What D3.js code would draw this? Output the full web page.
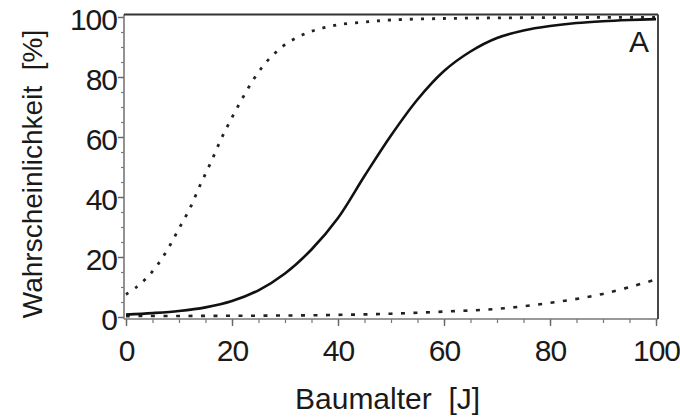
<!DOCTYPE html>
<html>
<head>
<meta charset="utf-8">
<script src="https://cdn.jsdelivr.net/npm/d3@7"></script>
<style>
  html, body { margin: 0; padding: 0; background: #fff; }
  svg { display: block; }
  text { font-family: "Liberation Sans", Arial, Helvetica, sans-serif; fill: #1a1a1a; }
</style>
</head>
<body>
<svg id="chart" width="680" height="419"></svg>
<script>
// ---- data ----
const solidAge = [0, 5, 10, 15, 20, 25, 30, 35, 40, 45, 50, 55, 60, 65, 70, 75, 80, 85, 90, 95, 100];
const solidProb = [0.8, 1.3, 2.0, 3.2, 5.3, 8.9, 14.5, 22.5, 33, 47, 60.5, 72.5, 82, 88.5, 93, 95.5, 97, 98, 98.6, 99, 99.3];

const upperAge = [0, 2, 4, 6, 8, 10, 12, 14, 16, 18, 20, 22, 24, 26, 28, 30, 33, 36, 40, 45, 50, 60, 70, 80, 90, 100];
const upperProb = [7.5, 10, 13.2, 17.5, 23, 29.5, 36, 44, 51.5, 59.5, 66.5, 73, 79, 84, 87.8, 90.8, 93.8, 95.8, 97.4, 98.3, 99, 99.5, 99.7, 99.8, 99.85, 99.9];

const lowerAge = [0, 10, 20, 30, 40, 50, 60, 70, 80, 90, 100];
const lowerProb = [0.3, 0.35, 0.4, 0.5, 0.7, 1.1, 1.8, 2.7, 4.7, 7.7, 12.5];

const xTickLabels = [0, 20, 40, 60, 80, 100];
const yTickLabels = [0, 20, 40, 60, 80, 100];
const xMinorTicks = d3.range(0, 101, 5);
const yMinorTicks = d3.range(0, 101, 5);

const xTitle = "Baumalter  [J]";
const yTitle = "Wahrscheinlichkeit  [%]";
const panelLabel = "A";

// ---- layout ----
const svg = d3.select("#chart");
const x = d3.scaleLinear().domain([0, 100]).range([126, 656]);
const y = d3.scaleLinear().domain([0, 100]).range([317, 17]);
const frame = { left: 124, right: 658, top: 14.5, bottom: 319 };

// minor ticks
svg.append("g")
  .attr("transform", `translate(${frame.left},0)`)
  .call(d3.axisLeft(y).tickValues(yMinorTicks).tickSize(3).tickFormat(""))
  .call(g => g.select(".domain").remove())
  .call(g => g.selectAll("line").attr("stroke", "#777").attr("stroke-width", 1.2));

svg.append("g")
  .attr("transform", `translate(0,${frame.bottom})`)
  .call(d3.axisBottom(x).tickValues(xMinorTicks).tickSize(4).tickFormat(""))
  .call(g => g.select(".domain").remove())
  .call(g => g.selectAll("line").attr("stroke", "#777").attr("stroke-width", 1.2));

// major ticks + labels
svg.append("g")
  .attr("transform", `translate(${frame.left},0)`)
  .call(d3.axisLeft(y).tickValues(yTickLabels).tickSize(6).tickPadding(1).tickFormat(d3.format("d")))
  .call(g => g.select(".domain").remove())
  .call(g => g.selectAll("line").attr("stroke", "#666").attr("stroke-width", 1.4))
  .call(g => g.selectAll("text")
      .attr("font-size", 30).attr("dy", "0.42em").attr("letter-spacing", -1)
      .attr("font-family", null).style("fill", "#1a1a1a"));

svg.append("g")
  .attr("transform", `translate(0,${frame.bottom})`)
  .call(d3.axisBottom(x).tickValues(xTickLabels).tickSize(7).tickPadding(14).tickFormat(d3.format("d")))
  .call(g => g.select(".domain").remove())
  .call(g => g.selectAll("line").attr("stroke", "#666").attr("stroke-width", 1.4))
  .call(g => g.selectAll("text")
      .attr("font-size", 30).attr("letter-spacing", -1)
      .attr("font-family", null).style("fill", "#1a1a1a"));

// frame
svg.append("line").attr("x1", frame.left).attr("x2", frame.left).attr("y1", frame.top).attr("y2", frame.bottom)
  .attr("stroke", "#777").attr("stroke-width", 1.6);
svg.append("line").attr("x1", frame.left).attr("x2", frame.right).attr("y1", frame.bottom).attr("y2", frame.bottom)
  .attr("stroke", "#777").attr("stroke-width", 1.6);
svg.append("line").attr("x1", frame.left).attr("x2", frame.right).attr("y1", frame.top).attr("y2", frame.top)
  .attr("stroke", "#333").attr("stroke-width", 1.8);
svg.append("line").attr("x1", frame.right).attr("x2", frame.right).attr("y1", frame.top).attr("y2", frame.bottom)
  .attr("stroke", "#333").attr("stroke-width", 1.8);

// curves
const line = d3.line().x(d => x(d[0])).y(d => y(d[1])).curve(d3.curveCatmullRom.alpha(0.5));

svg.append("path")
  .datum(d3.zip(lowerAge, lowerProb))
  .attr("d", line).attr("fill", "none")
  .attr("stroke", "#222").attr("stroke-width", 2.6)
  .attr("stroke-dasharray", "4,8.5");

svg.append("path")
  .datum(d3.zip(upperAge, upperProb))
  .attr("d", line).attr("fill", "none")
  .attr("stroke", "#222").attr("stroke-width", 2.8)
  .attr("stroke-dasharray", "3,8");

svg.append("path")
  .datum(d3.zip(solidAge, solidProb))
  .attr("d", line).attr("fill", "none")
  .attr("stroke", "#111").attr("stroke-width", 2.6);

// titles
svg.append("text")
  .attr("x", 295).attr("y", 409)
  .attr("text-anchor", "start").attr("font-size", 30)
  .style("white-space", "pre")
  .text(xTitle);

svg.append("text")
  .attr("transform", "translate(42,174) rotate(-90)")
  .attr("text-anchor", "middle").attr("font-size", 28)
  .style("white-space", "pre")
  .text(yTitle);

svg.append("text")
  .attr("x", 639).attr("y", 52)
  .attr("text-anchor", "middle").attr("font-size", 30)
  .text(panelLabel);
</script>
</body>
</html>
